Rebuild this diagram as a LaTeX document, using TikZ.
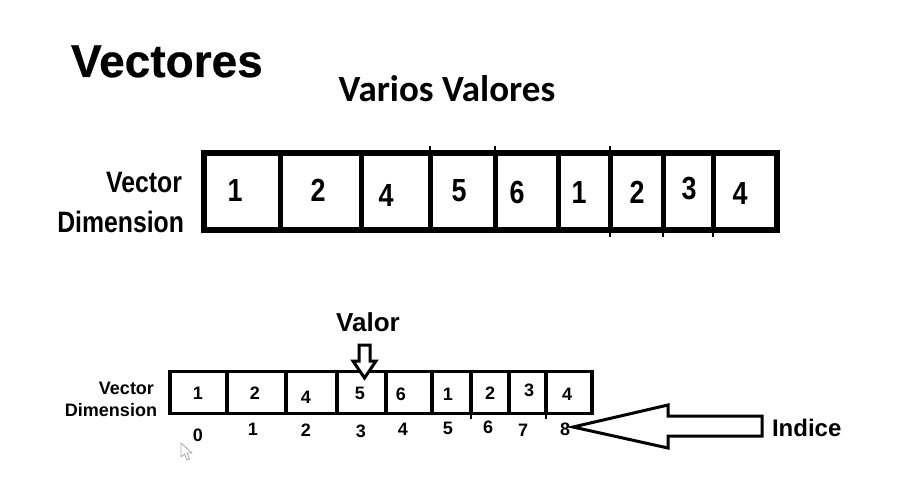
\documentclass[tikz,border=0pt]{standalone}
\usepackage{fontspec}
\setmainfont{Liberation Sans}
\newfontfamily\narrowfont[FakeStretch=0.84]{Liberation Sans}
\newfontfamily\heavyfont[FakeBold=0.5]{Liberation Sans}
\newfontfamily\calibrifont{Carlito}
\begin{document}
\begin{tikzpicture}[x=1pt,y=-1pt,
  txt/.style={inner sep=0pt,outer sep=0pt,anchor=base,font=\bfseries},
  bigdigit/.style={txt,font=\narrowfont\bfseries\fontsize{32}{32}\selectfont},
  bigdim/.style={txt,anchor=base east,font=\narrowfont\bfseries\fontsize{29.5}{29.5}\selectfont},
  smalldigit/.style={txt,font=\bfseries\fontsize{18}{18}\selectfont},
  smalldim/.style={txt,anchor=base east,font=\bfseries\fontsize{18}{18}\selectfont},
  hollow/.style={draw=black,fill=white,line width=3pt,line join=miter},
]
\useasboundingbox[fill=white] (0,0) rectangle (921,487);

% titles
\node[txt,anchor=base west,font=\heavyfont\bfseries\fontsize{46}{46}\selectfont] (title) at (71,77) {Vectores};
\node[txt,font=\calibrifont\bfseries\fontsize{37}{37}\selectfont] (sub) at (447,101) {Varios Valores};

% ---------- top vector ----------
\draw[line width=6.5pt] (204,153) rectangle (777,230);
\foreach \x in {280,361,430,495,558,610,663,713}
  \draw[line width=5pt] (\x,153) -- (\x,230);
\foreach \x in {430,495,610}
  \draw[line width=2pt] (\x,150) -- (\x,146);
\foreach \x in {610,663,713}
  \draw[line width=2pt] (\x,233) -- (\x,237);

\node[bigdim] (vt) at (182,192) {Vector};
\node[bigdim] (dt) at (184,232) {Dimension};

\node[bigdigit] (t0) at (235,201) {1};
\node[bigdigit] (t1) at (318,201) {2};
\node[bigdigit] (t2) at (386,206) {4};
\node[bigdigit] (t3) at (459,201) {5};
\node[bigdigit] (t4) at (517,203) {6};
\node[bigdigit] (t5) at (579,203) {1};
\node[bigdigit] (t6) at (637,203) {2};
\node[bigdigit] (t7) at (689,199) {3};
\node[bigdigit] (t8) at (740,204) {4};

% ---------- bottom vector ----------
\draw[line width=3.8pt] (170,371.5) rectangle (592,413.5);
\foreach \x in {227,286,337,386,432,471,509,546}
  \draw[line width=3.8pt] (\x,371.5) -- (\x,413.5);
\foreach \x in {471,546}
  \draw[line width=1.6pt] (\x,415) -- (\x,419);

\node[smalldim] (vb) at (154,394) {Vector};
\node[smalldim] (db) at (157,416) {Dimension};

\node[smalldigit] (b0) at (198,399) {1};
\node[smalldigit] (b1) at (255,399) {2};
\node[smalldigit] (b2) at (306,403) {4};
\node[smalldigit] (b3) at (360,399) {5};
\node[smalldigit] (b4) at (401,400) {6};
\node[smalldigit] (b5) at (448,400) {1};
\node[smalldigit] (b6) at (490,399) {2};
\node[smalldigit] (b7) at (529,396) {3};
\node[smalldigit] (b8) at (567,400) {4};

\node[smalldigit] (i0) at (198,441) {0};
\node[smalldigit] (i1) at (253,435) {1};
\node[smalldigit] (i2) at (306,436) {2};
\node[smalldigit] (i3) at (361,437) {3};
\node[smalldigit] (i4) at (403,435) {4};
\node[smalldigit] (i5) at (448,434) {5};
\node[smalldigit] (i6) at (488,433) {6};
\node[smalldigit] (i7) at (523,436) {7};
\node[smalldigit] (i8) at (565,435) {8};

% Valor label and arrow
\node[txt,font=\bfseries\fontsize{26}{26}\selectfont] (valor) at (368,331) {Valor};
\draw[hollow] (359,345) -- (370,345) -- (370,361) -- (376,361) -- (364.5,378)
  -- (353,361) -- (359,361) -- cycle;

% Indice label and arrow
\node[txt,anchor=base west,font=\bfseries\fontsize{24}{24}\selectfont] (indice) at (772,436) {Indice};
\draw[hollow] (573,427) -- (668,405) -- (668,416) -- (762,416) -- (762,436)
  -- (668,436) -- (668,448) -- cycle;

% mouse cursor
\draw[draw=gray!70,fill=white,line width=0.8pt,line join=round]
  (181,443) -- (181,457) -- (184.5,454) -- (187,460) -- (189.5,459) -- (187,453) -- (192,453) -- cycle;
\end{tikzpicture}
\end{document}
